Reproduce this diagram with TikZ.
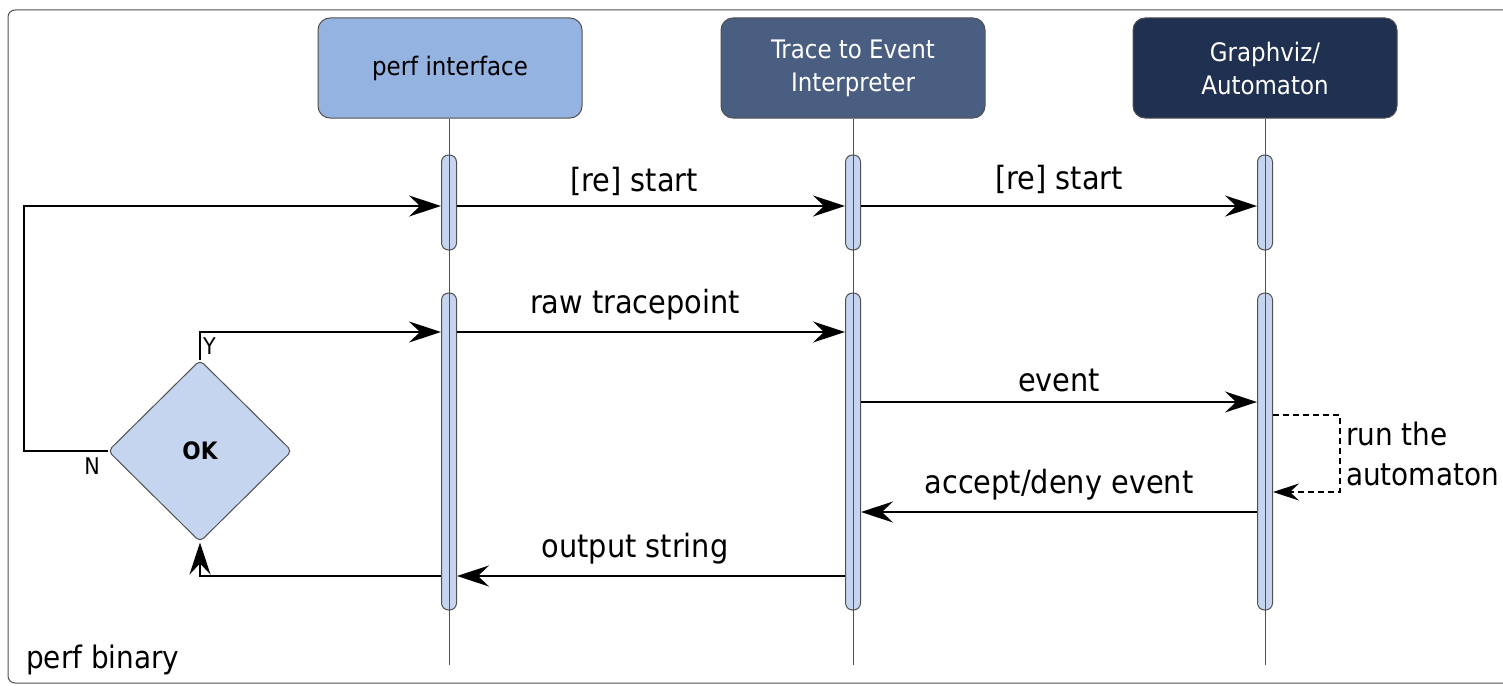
\documentclass[tikz,border=0pt]{standalone}
\usepackage{fontspec}
\setmainfont{DejaVu Sans Condensed}
\usetikzlibrary{shapes.geometric,arrows.meta,calc}
\definecolor{hdrA}{HTML}{95B3E0}
\definecolor{hdrB}{HTML}{4A5E82}
\definecolor{hdrC}{HTML}{1F3050}
\definecolor{barfill}{HTML}{C5D5F0}
\definecolor{edgegray}{HTML}{505050}
\tikzset{
  hdr/.style={draw=edgegray, line width=1pt, rounded corners=12pt, minimum width=264pt, minimum height=100pt, inner sep=0pt, align=center, font=\fontsize{25.5}{33}\selectfont},
  lifeline/.style={draw=edgegray, line width=0.9pt},
  actbar/.style={draw=edgegray, fill=barfill, line width=1pt, rounded corners=7pt, minimum width=15pt, inner sep=0pt},
  msg/.style={draw=black, line width=1.8pt, -{Stealth[length=32pt,width=21pt,inset=11pt]}},
  lbl/.style={font=\fontsize{32}{34}\selectfont, inner sep=0pt},
  small/.style={font=\fontsize{23}{25}\selectfont, inner sep=0pt},
}
\begin{document}
\begin{tikzpicture}[x=1pt,y=-1pt]
\useasboundingbox (0,0) rectangle (1503,685);
\clip (0,0) rectangle (1503,685);
% frame
\draw[edgegray, line width=1pt, rounded corners=7pt] (8,10) rectangle (1530,683);
% headers
\node[hdr, fill=hdrA] (pi) at (450,68) {perf interface};
\node[hdr, fill=hdrB, text=white] (te) at (853,68) {Trace to Event\\Interpreter};
\node[hdr, fill=hdrC, text=white] (ga) at (1265,68) {Graphviz/\\Automaton};
% end coordinates of lifelines
\coordinate (pie) at (449,665);
\coordinate (tee) at (853,665);
\coordinate (gae) at (1265,665);
% lifelines behind
\draw[lifeline] (pi.south -| pie) -- (pie);
\draw[lifeline] (te.south) -- (tee);
\draw[lifeline] (ga.south) -- (gae);
% activation bars
\node[actbar, minimum height=95pt] (a1) at (449,202.5) {};
\node[actbar, minimum height=95pt] (a2) at (853,202.5) {};
\node[actbar, minimum height=95pt] (a3) at (1265,202.5) {};
\node[actbar, minimum height=317pt] (b1) at (449,451.5) {};
\node[actbar, minimum height=317pt] (b2) at (853,451.5) {};
\node[actbar, minimum height=317pt] (b3) at (1265,451.5) {};
% lifelines over bars
\draw[lifeline, line width=0.7pt] (a1.north) -- (a1.south);
\draw[lifeline, line width=0.7pt] (a2.north) -- (a2.south);
\draw[lifeline, line width=0.7pt] (a3.north) -- (a3.south);
\draw[lifeline, line width=0.7pt] (b1.north) -- (b1.south);
\draw[lifeline, line width=0.7pt] (b2.north) -- (b2.south);
\draw[lifeline, line width=0.7pt] (b3.north) -- (b3.south);
% message rows
\coordinate (y1) at (0,206);
\coordinate (y2) at (0,332);
\coordinate (y3) at (0,402);
\coordinate (y4a) at (0,415);
\coordinate (y4b) at (0,492);
\coordinate (y5) at (0,512);
\coordinate (y6) at (0,576);
% decision
\node[diamond, draw=edgegray, fill=barfill, line width=1pt, minimum width=184pt, minimum height=182pt, inner sep=0pt, rounded corners=5pt, font=\bfseries\fontsize{24}{26}\selectfont] (ok) at (200,451) {OK};
% messages
\draw[msg] (a1.east |- y1) -- node[lbl, above=9pt, xshift=-17pt] {[re] start} (a2.west |- y1);
\draw[msg] (a2.east |- y1) -- node[lbl, above=11pt] {[re] start} (a3.west |- y1);
\draw[msg] (b1.east |- y2) -- node[lbl, above=11pt, xshift=-16pt] {raw tracepoint} (b2.west |- y2);
\draw[msg] (b2.east |- y3) -- node[lbl, above=9pt] {event} (b3.west |- y3);
\draw[msg] (b3.west |- y5) -- node[lbl, above=11pt] {accept/deny event} (b2.east |- y5);
\draw[msg] (b2.west |- y6) -- node[lbl, above=11pt, xshift=-16pt] {output string} (b1.east |- y6);
% self loop
\coordinate (sl) at (1340,0);
\draw[msg, line width=1.3pt, dashed, dash pattern=on 6pt off 4pt, -{Stealth[length=26pt,width=17pt,inset=9pt]}] (b3.east |- y4a) -- (sl |- y4a) -- (sl |- y4b) -- (b3.east |- y4b);
\node[lbl, anchor=west, align=left, font=\fontsize{31}{40}\selectfont] (rt) at (1346,454) {run the\\automaton};
% decision connectors
\coordinate (lx) at (24,0);
\draw[msg] (ok.west) -- (lx |- ok.west) -- (lx |- y1) -- (a1.west |- y1);
\draw[msg] (ok.north) -- (ok.north |- y2) -- (b1.west |- y2);
\draw[msg] (b1.west |- y6) -- (ok.south |- y6) -- (ok.south);
\node[small, anchor=west] (ylab) at (203,346) {Y};
\node[small] (nlab) at (92,466) {N};
\node[lbl, anchor=west, font=\fontsize{31}{33}\selectfont] (pb) at (26,660) {perf binary};
\end{tikzpicture}
\end{document}
